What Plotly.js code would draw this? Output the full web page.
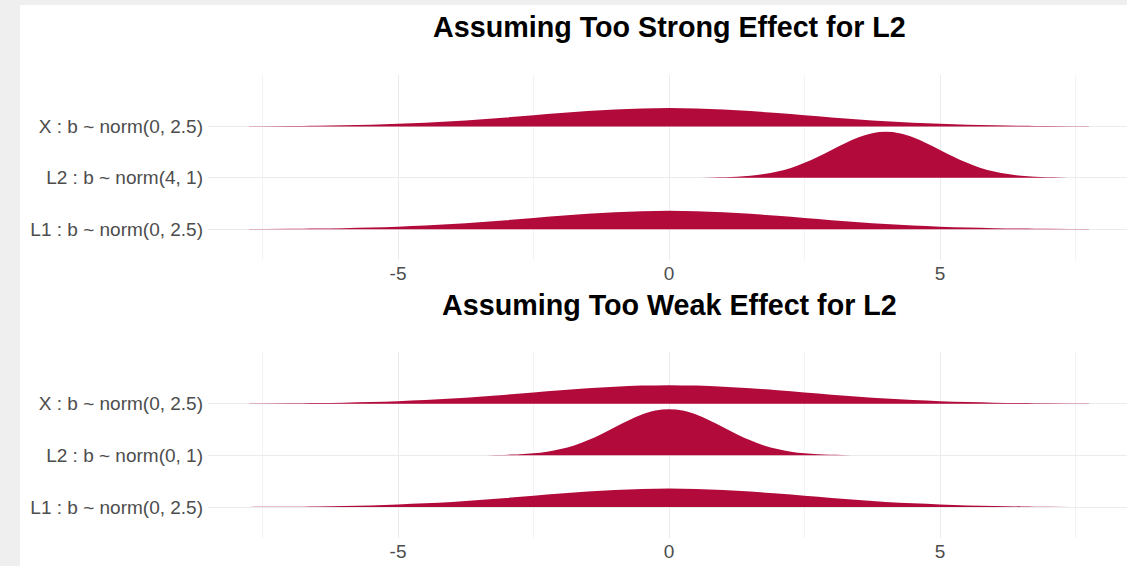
<!DOCTYPE html>
<html>
<head>
<meta charset="utf-8">
<script src="https://cdn.plot.ly/plotly-3.0.1.min.js"></script>
<style>
  html, body { margin: 0; padding: 0; background: #efefef; width: 1127px; height: 566px; overflow: hidden; }
  #plot { position: absolute; left: 20px; top: 5px; width: 1107px; height: 561px; background: #ffffff; }
</style>
</head>
<body>
<div id="plot"></div>
<script>
// ---- data ----
const rowLabelsTop = ["L1 : b ~ norm(0, 2.5)", "L2 : b ~ norm(4, 1)", "X : b ~ norm(0, 2.5)"];
const rowLabelsBottom = ["L1 : b ~ norm(0, 2.5)", "L2 : b ~ norm(0, 1)", "X : b ~ norm(0, 2.5)"];
const titleTop = "Assuming Too Strong Effect for L2";
const titleBottom = "Assuming Too Weak Effect for L2";
const xTickVals = [-5, 0, 5];
const xTickText = ["-5", "0", "5"];

// panel 1 ridges (x position, density)
const topL1x = [-7.75, -7, -6.5, -6, -5.5, -5, -4.5, -4, -3.5, -3, -2.5, -2, -1.5, -1, -0.5, 0, 0.5, 1, 1.5, 2, 2.5, 3, 3.5, 4, 4.5, 5, 5.5, 6, 6.5, 7, 7.75];
const topL1d = [0.001, 0.003, 0.005, 0.009, 0.014, 0.022, 0.032, 0.044, 0.060, 0.078, 0.097, 0.116, 0.133, 0.147, 0.156, 0.160, 0.156, 0.147, 0.133, 0.116, 0.097, 0.078, 0.060, 0.044, 0.032, 0.022, 0.014, 0.009, 0.005, 0.003, 0.001];
const topL2x = [0.3, 0.8, 1.25, 1.5, 1.75, 2, 2.25, 2.5, 2.75, 3, 3.25, 3.5, 3.75, 4, 4.25, 4.5, 4.75, 5, 5.25, 5.5, 5.75, 6, 6.25, 6.5, 6.75, 7.2, 7.6];
const topL2d = [0.001, 0.003, 0.009, 0.018, 0.032, 0.054, 0.086, 0.130, 0.183, 0.242, 0.301, 0.352, 0.387, 0.399, 0.387, 0.352, 0.301, 0.242, 0.183, 0.130, 0.086, 0.054, 0.032, 0.018, 0.009, 0.003, 0.001];
const topXx = [-7.75, -7, -6.5, -6, -5.5, -5, -4.5, -4, -3.5, -3, -2.5, -2, -1.5, -1, -0.5, 0, 0.5, 1, 1.5, 2, 2.5, 3, 3.5, 4, 4.5, 5, 5.5, 6, 6.5, 7, 7.75];
const topXd = [0.001, 0.003, 0.005, 0.009, 0.014, 0.022, 0.032, 0.044, 0.060, 0.078, 0.097, 0.116, 0.133, 0.147, 0.156, 0.160, 0.156, 0.147, 0.133, 0.116, 0.097, 0.078, 0.060, 0.044, 0.032, 0.022, 0.014, 0.009, 0.005, 0.003, 0.001];

// panel 2 ridges
const botL1x = [-7.75, -7, -6.5, -6, -5.5, -5, -4.5, -4, -3.5, -3, -2.5, -2, -1.5, -1, -0.5, 0, 0.5, 1, 1.5, 2, 2.5, 3, 3.5, 4, 4.5, 5, 5.5, 6, 6.5, 7, 7.75];
const botL1d = [0.001, 0.003, 0.005, 0.009, 0.014, 0.022, 0.032, 0.044, 0.060, 0.078, 0.097, 0.116, 0.133, 0.147, 0.156, 0.160, 0.156, 0.147, 0.133, 0.116, 0.097, 0.078, 0.060, 0.044, 0.032, 0.022, 0.014, 0.009, 0.005, 0.003, 0.001];
const botL2x = [-3.6, -3.2, -2.75, -2.5, -2.25, -2, -1.75, -1.5, -1.25, -1, -0.75, -0.5, -0.25, 0, 0.25, 0.5, 0.75, 1, 1.25, 1.5, 1.75, 2, 2.25, 2.5, 2.75, 3.2, 3.6];
const botL2d = [0.001, 0.003, 0.009, 0.018, 0.032, 0.054, 0.086, 0.130, 0.183, 0.242, 0.301, 0.352, 0.387, 0.399, 0.387, 0.352, 0.301, 0.242, 0.183, 0.130, 0.086, 0.054, 0.032, 0.018, 0.009, 0.003, 0.001];
const botXx = [-7.75, -7, -6.5, -6, -5.5, -5, -4.5, -4, -3.5, -3, -2.5, -2, -1.5, -1, -0.5, 0, 0.5, 1, 1.5, 2, 2.5, 3, 3.5, 4, 4.5, 5, 5.5, 6, 6.5, 7, 7.75];
const botXd = [0.001, 0.003, 0.005, 0.009, 0.014, 0.022, 0.032, 0.044, 0.060, 0.078, 0.097, 0.116, 0.133, 0.147, 0.156, 0.160, 0.156, 0.147, 0.133, 0.116, 0.097, 0.078, 0.060, 0.044, 0.032, 0.022, 0.014, 0.009, 0.005, 0.003, 0.001];

// ---- styling ----
const fillColor = "#b20a3a";
const ridgeScale = 2.24;   // density units -> row units

const traces = [];
function addRidge(xs, ds, row, xa, ya) {
  traces.push({
    type: "scatter", mode: "lines", xaxis: xa, yaxis: ya,
    x: [xs[0], xs[xs.length - 1]], y: [row, row],
    line: { width: 0, color: fillColor }, hoverinfo: "skip", showlegend: false
  });
  traces.push({
    type: "scatter", mode: "lines", xaxis: xa, yaxis: ya,
    x: xs, y: ds.map(d => row + d * ridgeScale),
    line: { width: 0, color: fillColor, shape: "spline", smoothing: 1 },
    fill: "tonexty", fillcolor: fillColor, showlegend: false
  });
}
addRidge(topL1x, topL1d, 1, "x", "y");
addRidge(topL2x, topL2d, 2, "x", "y");
addRidge(topXx, topXd, 3, "x", "y");
addRidge(botL1x, botL1d, 1, "x2", "y2");
addRidge(botL2x, botL2d, 2, "x2", "y2");
addRidge(botXx, botXd, 3, "x2", "y2");

const font = { family: "Liberation Sans, Arial, sans-serif", size: 19, color: "#4d4d4d" };
function xaxisDef(anchor) {
  return {
    anchor: anchor, domain: [0, 1], range: [-8.506, 8.45],
    tickvals: xTickVals, ticktext: xTickText, ticks: "",
    showgrid: true, gridcolor: "#ebebeb", gridwidth: 1,
    minor: { tickvals: [-7.5, -2.5, 2.5, 7.5], showgrid: true, gridcolor: "#f3f3f3", gridwidth: 1, ticks: "" },
    zeroline: false, showline: false, tickfont: font, fixedrange: true
  };
}
function yaxisDef(anchor, domain, labels) {
  return {
    anchor: anchor, domain: domain, range: [0.4, 4.0],
    tickvals: [1, 2, 3], ticktext: labels, ticks: "", ticklabelstandoff: 4,
    showgrid: true, gridcolor: "#ebebeb", gridwidth: 1,
    zeroline: false, showline: false, tickfont: font, fixedrange: true
  };
}

const layout = {
  width: 1107, height: 561,
  margin: { l: 188, r: 0, t: 70, b: 28 },
  paper_bgcolor: "#ffffff", plot_bgcolor: "#ffffff",
  showlegend: false,
  xaxis: xaxisDef("y"),
  yaxis: yaxisDef("x", [0.6004, 1], rowLabelsTop),
  xaxis2: xaxisDef("y2"),
  yaxis2: yaxisDef("x2", [0, 0.4017], rowLabelsBottom),
  annotations: [
    { text: "<b>" + titleTop + "</b>", xref: "x", yref: "paper", x: 0, y: 1.1037,
      xanchor: "center", yanchor: "middle", showarrow: false,
      font: { family: "Liberation Sans, Arial, sans-serif", size: 28.7, color: "#000000" } },
    { text: "<b>" + titleBottom + "</b>", xref: "x2", yref: "paper", x: 0, y: 0.5032,
      xanchor: "center", yanchor: "middle", showarrow: false,
      font: { family: "Liberation Sans, Arial, sans-serif", size: 28.7, color: "#000000" } }
  ]
};

Plotly.newPlot("plot", traces, layout, { displayModeBar: false, staticPlot: true });
</script>
</body>
</html>
